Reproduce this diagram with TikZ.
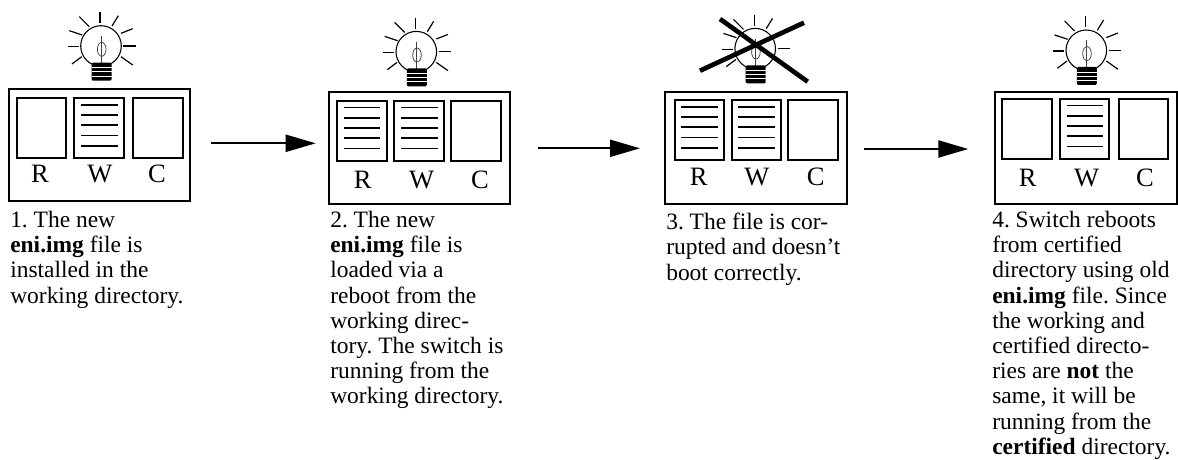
\documentclass[tikz,border=0pt]{standalone}
\usepackage{fontspec}
\setmainfont{Liberation Serif}
\usetikzlibrary{arrows.meta}
\tikzset{
  frame/.style={draw=black,line width=1.5pt,fill=white},
  docline/.style={draw=black,line width=1.2pt},
  dirlabel/.style={anchor=base,inner sep=0pt,font=\fontsize{19.9pt}{22pt}\selectfont},
  caption/.style={anchor=north west,inner sep=0pt,align=left,font=\frenchspacing\fontsize{17.6pt}{18.9pt}\selectfont},
  ray/.style={draw=black,line width=0.9pt},
  flow/.style={draw=black,line width=1.5pt,-{Triangle[length=22.5pt,width=12.8pt]}},
  cross/.style={draw=black,line width=3.5pt},
  bulb/.pic={
    \foreach \a/\b/\c/\d in {-1/-34/-1/-23, 11/-20/17.3/-30.3, 20/-12.7/31.7/-17.3, 22.3/0/35/0,
      20/10.7/31.7/19, -19.3/10.7/-29/18, -33/0.7/-22.3/0.7, -31.7/-15.3/-18.7/-11, -21.7/-29.3/-11.7/-19.3}
      {\draw[ray] (\a,\b) -- (\c,\d);}
    \draw[draw=black,line width=0.8pt] (0,0) circle[radius=20.3];
    \draw[draw=black!75,line width=0.55pt] (0.5,-10) -- (0.5,17);
    \draw[draw=black!75,line width=0.55pt] (0.7,3.3) ellipse[x radius=4.3,y radius=7];
    \fill[black,rounded corners=1pt] (-9.5,16.7) rectangle (10.5,34.7);
    \foreach \s in {21.5,25.7,30}{\draw[white,line width=0.4pt] (-9.5,\s) -- (10.5,\s);}
  }
}
% left x, right x, top y, bottom y
\newcommand{\dirrect}[4]{\draw[frame] (#1,#3) rectangle (#2,#4);}
% left x, right x, top y of the directory rectangle: five text lines
\newcommand{\doclines}[3]{\foreach \o in {7,17,27,37.3,47.7}{\draw[docline] (#1,#3+\o) -- (#2,#3+\o);}}
\begin{document}
\begin{tikzpicture}[x=0.75pt,y=-0.75pt]
\useasboundingbox (0,0) rectangle (1178,460);
\fill[white] (0,0) rectangle (1178,460);

% panel 1
\pic at (101,46) {bulb};
\dirrect{8.7}{190.3}{89}{200.7}
\dirrect{17}{66}{98}{158}
\dirrect{74}{124}{98}{158}
\dirrect{133}{183}{98}{158}
\doclines{81}{118}{98}
\node[dirlabel] (r1) at (40,182.7) {R};
\node[dirlabel] (w1) at (100,182.7) {W};
\node[dirlabel] (c1) at (157,182.7) {C};
\node[caption] (t1) at (10,211) {1. The new\\\textbf{eni.img} file is\\installed in the\\working directory.};

% panel 2
\pic at (416.3,51.7) {bulb};
\dirrect{328.7}{510.3}{91.7}{203.7}
\dirrect{336.7}{387.3}{100.7}{161}
\dirrect{393.7}{444}{100.7}{161}
\dirrect{450.7}{500.7}{100.7}{161}
\doclines{344}{380}{100.7}
\doclines{401}{438}{100.7}
\node[dirlabel] (r2) at (362.7,188) {R};
\node[dirlabel] (w2) at (421.7,188) {W};
\node[dirlabel] (c2) at (480,188) {C};
\node[caption] (t2) at (330,211) {2. The new\\\textbf{eni.img} file is\\loaded via a\\reboot from the\\working direc-\\tory. The switch is\\running from the\\working directory.};

% panel 3
\pic at (755.2,48.7) {bulb};
\dirrect{664.7}{847.3}{92}{204}
\dirrect{674.7}{724.3}{100}{160}
\dirrect{731.7}{781}{100}{160}
\dirrect{787.7}{838}{100}{160}
\doclines{681}{718}{100}
\doclines{738}{775}{100}
\node[dirlabel] (r3) at (698.7,185.7) {R};
\node[dirlabel] (w3) at (757,185.7) {W};
\node[dirlabel] (c3) at (815.7,185.7) {C};
\node[caption] (t3) at (666,213) {3. The file is cor-\\rupted and doesn’t\\boot correctly.};
\coordinate (x1a) at (720,19);
\coordinate (x1b) at (807.7,81.7);
\coordinate (x2a) at (700,70.7);
\coordinate (x2b) at (804,22.7);
\draw[cross] (x1a) -- (x1b);
\draw[cross] (x2a) -- (x2b);

% panel 4
\pic at (1086.3,50.3) {bulb};
\dirrect{994.7}{1176.7}{91.7}{203.7}
\dirrect{1001.7}{1052}{98.7}{159}
\dirrect{1059.5}{1109}{98.7}{159}
\dirrect{1118.5}{1168}{98.7}{159}
\doclines{1066.7}{1103}{98.7}
\node[dirlabel] (r4) at (1027.7,186) {R};
\node[dirlabel] (w4) at (1086.7,186) {W};
\node[dirlabel] (c4) at (1145,186) {C};
\node[caption] (t4) at (992,211) {4. Switch reboots\\from certified\\directory using old\\\textbf{eni.img} file. Since\\the working and\\certified directo-\\ries are \textbf{not} the\\same, it will be\\running from the\\\textbf{certified} directory.};

% arrows
\coordinate (a1s) at (211.3,143.3);
\coordinate (a1e) at (315.7,143.3);
\coordinate (a2s) at (538.3,148.3);
\coordinate (a2e) at (640,148.3);
\coordinate (a3s) at (864,149);
\coordinate (a3e) at (968.3,149);
\draw[flow] (a1s) -- (a1e);
\draw[flow] (a2s) -- (a2e);
\draw[flow] (a3s) -- (a3e);
\end{tikzpicture}
\end{document}
